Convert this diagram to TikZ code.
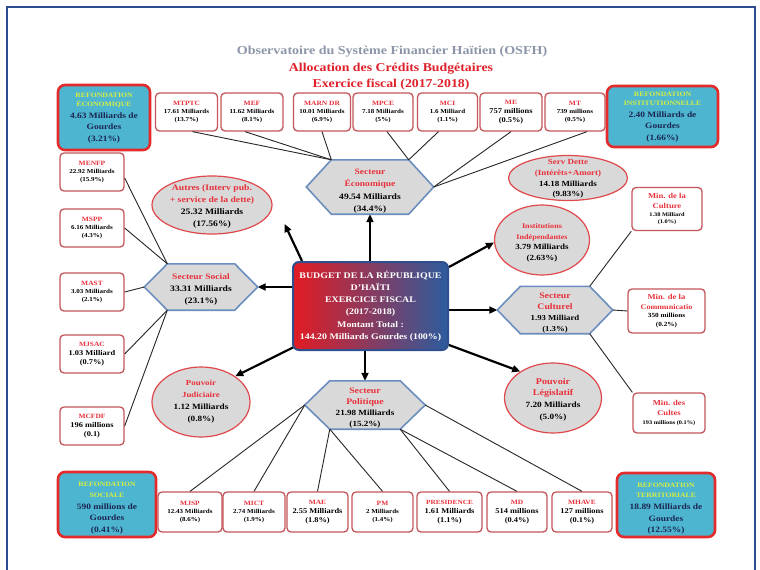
\documentclass[tikz,border=0pt]{standalone}
\usepackage{fontspec}
\setmainfont{Liberation Serif}[FakeStretch=1.15]
\usetikzlibrary{arrows.meta,shapes.geometric,calc}
\pgfdeclarelayer{bg}
\pgfsetlayers{bg,main}
\definecolor{cFrame}{HTML}{2D4B8E}
\definecolor{cTitleGray}{HTML}{8D96A8}
\definecolor{cTitleRed}{HTML}{E0202A}
\definecolor{cBoxRed}{HTML}{C5555A}
\definecolor{cTxtRed}{HTML}{E8303A}
\definecolor{cRefCyan}{HTML}{4DB5CF}
\definecolor{cRefRed}{HTML}{E42B2B}
\definecolor{cRefYel}{HTML}{D8EE40}
\definecolor{cNavy}{HTML}{1B2552}
\definecolor{cLGray}{HTML}{D9D9D9}
\definecolor{cHexBlue}{HTML}{6C8EBF}
\definecolor{cEllRed}{HTML}{E0484C}
\definecolor{cBudRed}{HTML}{E31B23}
\definecolor{cBudBlue}{HTML}{2C5C9E}
\definecolor{cBudEdge}{HTML}{2F4F8F}
\newcommand\Rd[1]{\textcolor{cTxtRed}{#1}}
\newcommand\Yl[1]{\textcolor{cRefYel}{\fontsize{6.7}{8}\selectfont #1}}
\newcommand\Fs[2]{{\fontsize{#1}{#1}\selectfont #2}}
\newcommand\hexpath[2]{\path[hexsty] (#1.west) -- ([xshift=#2]#1.north west) -- ([xshift=-#2]#1.north east) -- (#1.east) -- ([xshift=-#2]#1.south east) -- ([xshift=#2]#1.south west) -- cycle;}
\tikzset{
  minbox/.style={draw=cBoxRed, line width=1.3pt, rounded corners=4pt, fill=white, align=center, inner sep=1pt, minimum height=38pt, font=\bfseries\fontsize{6.1}{7.6}\selectfont},
  medbox/.style={minbox, font=\bfseries\fontsize{7.3}{9}\selectfont},
  minrbox/.style={minbox, font=\bfseries\fontsize{7.5}{9.5}\selectfont},
  refbox/.style={draw=cRefRed, line width=2.6pt, rounded corners=7pt, fill=cRefCyan, inner sep=0pt},
  reftxt/.style={align=center, inner sep=0pt, text=cNavy, font=\bfseries\fontsize{8.2}{11.5}\selectfont},
  ell/.style={ellipse, draw=cEllRed, line width=1.2pt, fill=cLGray, inner sep=0pt},
  etxt/.style={align=center, inner sep=0pt, font=\bfseries\fontsize{8.2}{11.5}\selectfont},
  hexanch/.style={inner sep=0pt, draw=none},
  hexsty/.style={draw=cHexBlue, line width=1.6pt, fill=cLGray, line join=miter},
  htxt/.style={align=center, inner sep=0pt, font=\bfseries\fontsize{8.3}{12}\selectfont},
  arr/.style={line width=2.2pt, -{Triangle[length=8pt,width=7pt]}},
  con/.style={line width=0.9pt, draw=black!85},
}
\begin{document}
\begin{tikzpicture}[x=1pt,y=-1pt]
\useasboundingbox (0,0) rectangle (760,570);
\begin{pgfonlayer}{bg}
\fill[white] (0,0) rectangle (760,570);
\end{pgfonlayer}
\draw[cFrame, line width=2.5pt] (7,580) -- (7,7) -- (755,7) -- (755,580);

% titles
\node[font=\bfseries\fontsize{12.2}{14}\selectfont, text=cTitleGray] (t1) at (392,52) {Observatoire du Système Financier Haïtien (OSFH)};
\node[font=\bfseries\fontsize{12}{14}\selectfont, text=cTitleRed] (t2) at (391,69) {Allocation des Crédits Budgétaires};
\node[font=\bfseries\fontsize{12}{14}\selectfont, text=cTitleRed] (t3) at (391,85) {Exercice fiscal (2017-2018)};

% refondation boxes
\node[refbox, minimum width=92pt, minimum height=65pt] (refeco) at (104,117.5) {};
\node[reftxt] (refecot) at ($(refeco)+(0,0.5)$) {\Yl{REFONDATION}\\[-3pt]\Yl{ÉCONOMIQUE}\\[0.5pt]4.63 Milliards de\\Gourdes\\(3.21\%)};
\node[refbox, minimum width=111pt, minimum height=61pt] (refinst) at (662.5,116.5) {};
\node[reftxt] (refinstt) at ($(refinst)+(0,0.5)$) {\Yl{REFONDATION}\\[-3pt]\Yl{INSTITUTIONNELLE}\\[0.5pt]2.40 Milliards de\\Gourdes\\(1.66\%)};
\node[refbox, minimum width=98pt, minimum height=65pt] (refsoc) at (107,504.5) {};
\node[reftxt] (refsoct) at ($(refsoc)+(0,3.5)$) {\Yl{REFONDATION}\\[-1pt]\Yl{SOCIALE}\\[0.5pt]590 millions de\\Gourdes\\(0.41\%)};
\node[refbox, minimum width=98pt, minimum height=64pt] (refter) at (666,505) {};
\node[reftxt] (refter t) at ($(refter)+(0,3.5)$) {\Yl{REFONDATION}\\[-1pt]\Yl{TERRITORIALE}\\[0.5pt]18.89 Milliards de\\Gourdes\\(12.55\%)};

% top boxes
\node[minbox, minimum width=62pt] (mtptc) at (186.5,112) {\Rd{\Fs{6.5}{MTPTC}}\\17.61 Milliards\\(13.7\%)};
\node[minbox, minimum width=62pt] (mef) at (252,112) {\Rd{\Fs{6.5}{MEF}}\\11.62 Milliards\\(8.1\%)};
\node[minbox, minimum width=57pt] (marndr) at (322,112) {\Rd{\Fs{6.5}{MARN DR}}\\10.01 Milliards\\(6.9\%)};
\node[minbox, minimum width=60pt] (mpce) at (383,112) {\Rd{\Fs{6.5}{MPCE}}\\7.18 Milliards\\(5\%)};
\node[minbox, minimum width=60pt] (mci) at (447.5,112) {\Rd{\Fs{6.5}{MCI}}\\1.6 Milliard\\(1.1\%)};
\node[medbox, minimum width=62pt] (me) at (511,112) {\Rd{\Fs{6.5}{ME}}\\757 millions\\(0.5\%)};
\node[minbox, minimum width=60pt] (mt) at (575,112) {\Rd{\Fs{6.5}{MT}}\\739 millions\\(0.5\%)};

% left boxes
\node[minbox, minimum width=64pt] (menfp) at (92,172) {\Rd{\Fs{6.5}{MENFP}}\\22.92 Milliards\\(15.9\%)};
\node[minbox, minimum width=64pt] (mspp) at (92,228) {\Rd{\Fs{6.5}{MSPP}}\\6.16 Milliards\\(4.3\%)};
\node[minbox, minimum width=64pt] (mast) at (92,292) {\Rd{\Fs{6.5}{MAST}}\\3.03 Milliards\\(2.1\%)};
\node[medbox, minimum width=64pt] (mjsac) at (92,354) {\Rd{\Fs{6.5}{MJSAC}}\\1.03 Milliard\\(0.7\%)};
\node[medbox, minimum width=64pt] (mcfdf) at (92,426) {\Rd{\Fs{6.5}{MCFDF}}\\196 millions\\(0.1)};

% right boxes
\node[minrbox, minimum width=70pt, minimum height=43pt] (culture) at (667,209) {\Rd{Min. de la}\\\Rd{Culture}\\[-1pt]\Fs{5.5}{1.38 Milliard}\\[-3pt]\Fs{5.5}{(1.0\%)}};
\node[minrbox, minimum width=77pt, minimum height=44pt] (comm) at (666.5,311) {\Rd{Min. de la}\\\Rd{\Fs{7.1}{Communicatio}}\\[-1pt]\Fs{6.3}{350 millions}\\[-1pt]\Fs{6.3}{(0.2\%)}};
\node[minrbox, minimum width=72pt, minimum height=40pt] (cultes) at (669,413) {\Rd{Min. des}\\\Rd{Cultes}\\\Fs{5.5}{193 millions (0.1\%)}};

% bottom boxes
\node[minbox, minimum width=64pt, minimum height=40pt] (mjsp) at (190,512) {\Rd{\Fs{6.5}{MJSP}}\\12.43 Milliards\\(8.6\%)};
\node[minbox, minimum width=62pt, minimum height=40pt] (mict) at (254,512) {\Rd{\Fs{6.5}{MICT}}\\2.74 Milliards\\(1.9\%)};
\node[medbox, minimum width=61pt, minimum height=40pt] (mae) at (317.5,512) {\Rd{\Fs{6.5}{MAE}}\\2.55 Milliards\\(1.8\%)};
\node[minbox, minimum width=61pt, minimum height=40pt] (pm) at (382.5,512) {\Rd{\Fs{6.5}{PM}}\\2 Milliards\\(1.4\%)};
\node[medbox, minimum width=65pt, minimum height=40pt] (pres) at (449.5,512) {\Rd{\Fs{6.3}{PRESIDENCE}}\\1.61 Milliards\\(1.1\%)};
\node[medbox, minimum width=60pt, minimum height=40pt] (md) at (517,512) {\Rd{\Fs{6.5}{MD}}\\514 millions\\(0.4\%)};
\node[medbox, minimum width=60pt, minimum height=40pt] (mhave) at (582,512) {\Rd{\Fs{6.5}{MHAVE}}\\127 millions\\(0.1\%)};

% hexagons
\node[hexanch, minimum width=127pt, minimum height=54pt] (econ) at (370,187) {};
\hexpath{econ}{25pt}
\node[htxt, font=\bfseries\fontsize{8.3}{12.5}\selectfont] (econt) at ($(econ)+(0,4)$) {\Rd{Secteur}\\\Rd{Économique}\\49.54 Milliards\\(34.4\%)};
\node[hexanch, minimum width=113pt, minimum height=46pt] (social) at (201,287) {};
\hexpath{social}{23pt}
\node[htxt] (socialt) at ($(social)+(0,2)$) {\Rd{Secteur Social}\\33.31 Milliards\\(23.1\%)};
\node[hexanch, minimum width=115pt, minimum height=47pt] (cult) at (555,310) {};
\hexpath{cult}{23pt}
\node[htxt, font=\bfseries\fontsize{7.6}{10.7}\selectfont] (cultt) at ($(cult)+(0,3)$) {\Rd{\Fs{8.5}{Secteur}}\\\Rd{\Fs{8.5}{Culturel}}\\1.93 Milliard\\(1.3\%)};
\node[hexanch, minimum width=120pt, minimum height=48pt] (polit) at (365,405) {};
\hexpath{polit}{25pt}
\node[htxt, font=\bfseries\fontsize{7.9}{11}\selectfont] (politt) at ($(polit)+(0,3.5)$) {\Rd{\Fs{8.5}{Secteur}}\\\Rd{\Fs{8.5}{Politique}}\\21.98 Milliards\\(15.2\%)};

% ellipses
\node[ell, minimum width=120pt, minimum height=58pt] (autres) at (212,205) {};
\node[etxt, font=\bfseries\fontsize{8.4}{12}\selectfont] (autrest) at ($(autres)+(0,1.5)$) {\Rd{Autres (Interv pub.}\\\Rd{+ service de la dette)}\\25.32 Milliards\\(17.56\%)};
\node[ell, minimum width=119pt, minimum height=45pt] (dette) at (568,178) {};
\node[etxt, font=\bfseries\fontsize{7.8}{10.7}\selectfont] (dettet) at ($(dette)+(0,1)$) {\Rd{Serv Dette}\\\Rd{(Intérêts+Amort)}\\14.18 Milliards\\(9.83\%)};
\node[ell, minimum width=95pt, minimum height=70pt] (inst) at (542,240) {};
\node[etxt, font=\bfseries\fontsize{7.8}{10.7}\selectfont] (instt) at ($(inst)+(0,3)$) {\Rd{\Fs{7.1}{Institutions}}\\\Rd{\Fs{7.1}{Indépendantes}}\\3.79 Milliards\\(2.63\%)};
\node[ell, minimum width=97pt, minimum height=70pt] (legis) at (553,398) {};
\node[etxt, font=\bfseries\fontsize{8}{11.7}\selectfont] (legist) at ($(legis)+(0,1.5)$) {\Rd{\Fs{8.8}{Pouvoir}}\\\Rd{\Fs{8.8}{Législatif}}\\7.20 Milliards\\(5.0\%)};
\node[ell, minimum width=98pt, minimum height=70pt] (judic) at (201,402) {};
\node[etxt, font=\bfseries\fontsize{8}{12}\selectfont] (judict) at ($(judic)+(0,0)$) {\Rd{\Fs{7.7}{Pouvoir}}\\\Rd{\Fs{7.7}{Judiciaire}}\\1.12 Milliards\\(0.8\%)};

% center box
\node[draw=cBudEdge, line width=2pt, rounded corners=6pt, left color=cBudRed, right color=cBudBlue, minimum width=155pt, minimum height=88pt, text=white, align=center, inner sep=0pt, font=\bfseries\fontsize{8.6}{12.3}\selectfont] (budget) at (370.5,306) {BUDGET DE LA RÉPUBLIQUE\\D'HAÏTI\\EXERCICE FISCAL\\(2017-2018)\\Montant Total :\\144.20 Milliards Gourdes (100\%)};

% arrows (behind the boxes)
\begin{pgfonlayer}{bg}
\draw[arr] ([xshift=10pt]budget.north west) -- ($(autres.east)+(12,19)$);
\draw[arr] (budget.north -| econ.south) -- (econ.south);
\draw[arr] (budget.west |- social.east) -- (social.east);
\draw[arr] ([yshift=-6pt]budget.north east) -- (inst.183);
\draw[arr] (budget.east |- cult.west) -- (cult.west);
\draw[arr] ([yshift=6pt]budget.south east) -- (legis.141);
\draw[arr] (budget.south -| polit.north) -- (polit.north);
\draw[arr] ([xshift=4pt,yshift=5pt]budget.south west) -- (judic.37);
\end{pgfonlayer}

% connectors economic
\draw[con] ([xshift=6pt]mtptc.south) -- ([xshift=25pt]econ.north west);
\draw[con] ([xshift=-7pt]mef.south) -- ([xshift=25pt]econ.north west);
\draw[con] (marndr.south) -- ([xshift=25pt]econ.north west);
\draw[con] ([xshift=4pt]mpce.south) -- ([xshift=-25pt]econ.north east);
\draw[con] ([xshift=-9pt]mci.south) -- ([xshift=-25pt]econ.north east);
\draw[con] (me.south) -- (econ.east);
\draw[con] ([xshift=12pt]mt.south) -- (econ.east);
% social
\draw[con] ([yshift=-6pt]menfp.east) -- ([xshift=23pt]social.north west);
\draw[con] (mspp.east) -- ([xshift=23pt]social.north west);
\draw[con] (mast.east) -- (social.west);
\draw[con] (mjsac.east) -- ([xshift=23pt]social.south west);
\draw[con] (mcfdf.east) -- ([xshift=23pt]social.south west);
% culturel
\draw[con] (culture.south west) -- ([xshift=-23pt]cult.north east);
\draw[con] (cult.east) -- (comm.west);
\draw[con] ([xshift=-23pt]cult.south east) -- (cultes.north west);
% politique
\draw[con] (polit.west) -- (mjsp.north);
\draw[con] (polit.west) -- (mict.north);
\draw[con] ([xshift=25pt]polit.south west) -- (mae.north);
\draw[con] ([xshift=25pt]polit.south west) -- (pm.north);
\draw[con] ([xshift=-25pt]polit.south east) -- (pres.north);
\draw[con] ([xshift=-25pt]polit.south east) -- (md.north);
\draw[con] (polit.east) -- (mhave.north);
\end{tikzpicture}
\end{document}
